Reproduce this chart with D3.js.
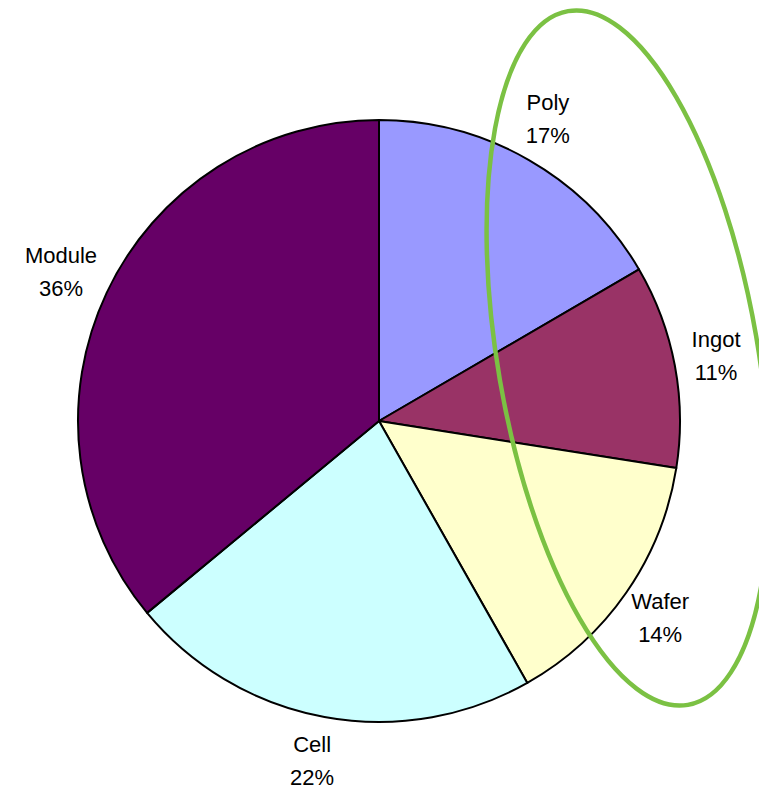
<!DOCTYPE html>
<html>
<head>
<meta charset="utf-8">
<script src="https://cdn.jsdelivr.net/npm/d3@7"></script>
<style>
  body { margin: 0; background: #fff; }
  text { font-family: "Liberation Sans", Arial, sans-serif; }
</style>
</head>
<body>
<div id="chart"></div>
<script>
// slices, clockwise from 12 o'clock
var categories = ["Poly", "Ingot", "Wafer", "Cell", "Module"];
var values = [16.6, 10.9, 14.3, 22.2, 36.0];
var colors = ["#9999ff", "#993366", "#ffffcc", "#ccffff", "#660066"];

var width = 759, height = 791;
var cx = 379, cy = 421, radius = 301;

var svg = d3.select("#chart")
  .append("svg")
  .attr("width", width)
  .attr("height", height);

var g = svg.append("g")
  .attr("transform", "translate(" + cx + "," + cy + ")");

var total = d3.sum(values);
var pie = d3.pie().sort(null).value(function(d) { return d; });
var arcs = pie(values);

var arc = d3.arc().innerRadius(0).outerRadius(radius);
var labelArc = d3.arc().innerRadius(347).outerRadius(347);

g.selectAll("path.slice")
  .data(arcs)
  .enter()
  .append("path")
  .attr("class", "slice")
  .attr("d", arc)
  .attr("fill", function(d, i) { return colors[i]; })
  .attr("stroke", "#000")
  .attr("stroke-width", 2)
  .attr("stroke-linejoin", "round");

// labels: name + rounded percentage
var labels = g.selectAll("g.label")
  .data(arcs)
  .enter()
  .append("g")
  .attr("class", "label")
  .attr("transform", function(d) {
    var c = labelArc.centroid(d);
    // text boxes sit a little towards the left of the radial point
    return "translate(" + (c[0] - 4) + "," + (c[1] - 2) + ")";
  });

labels.append("text")
  .attr("y", -8)
  .attr("text-anchor", "middle")
  .style("font-size", "22px")
  .attr("fill", "#000")
  .text(function(d, i) { return categories[i]; });

labels.append("text")
  .attr("y", 25)
  .attr("text-anchor", "middle")
  .style("font-size", "22px")
  .attr("fill", "#000")
  .text(function(d) { return Math.round(d.value / total * 100) + "%"; });

// green highlight ellipse round the upstream steps
svg.append("ellipse")
  .attr("transform", "translate(628,358) rotate(-9.8)")
  .attr("rx", 130)
  .attr("ry", 352)
  .attr("fill", "none")
  .attr("stroke", "#7bc143")
  .attr("stroke-width", 4.5);
</script>
</body>
</html>
